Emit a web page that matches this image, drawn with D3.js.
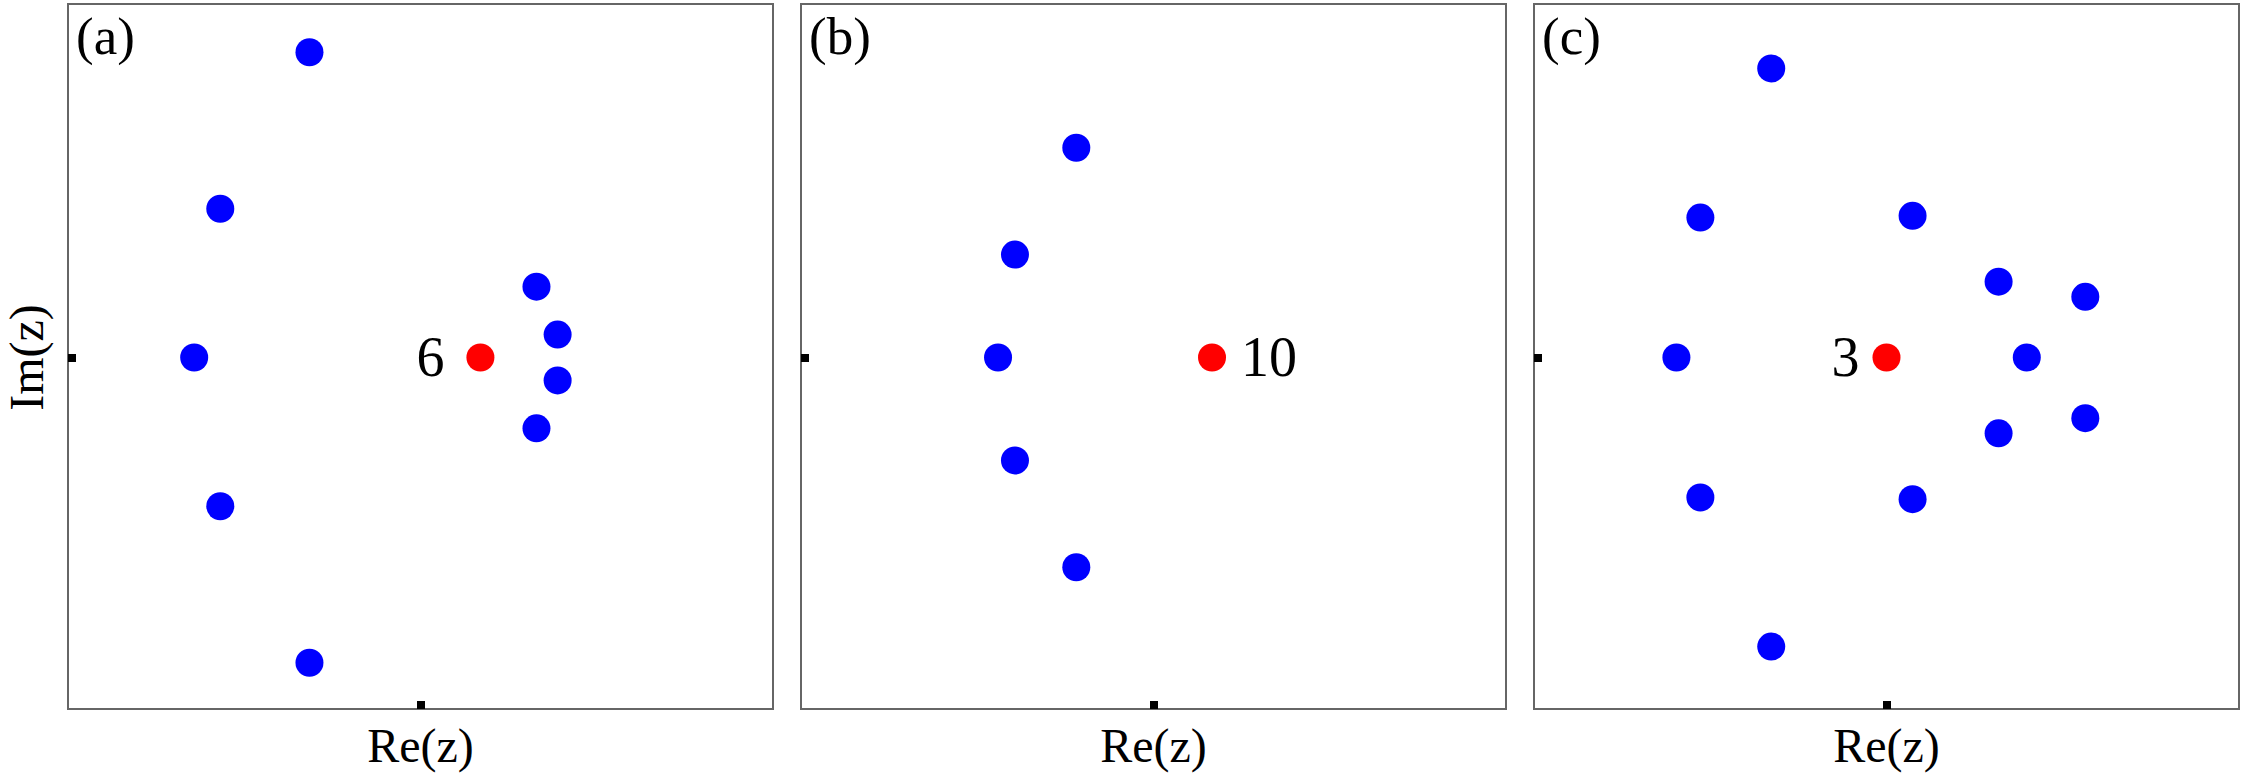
<!DOCTYPE html>
<html>
<head>
<meta charset="utf-8">
<script src="https://cdn.jsdelivr.net/npm/d3@7"></script>
<style>
  html, body { margin: 0; padding: 0; background: #fff; }
  svg { display: block; }
  text { font-family: "Liberation Serif", "Times New Roman", serif; fill: #000; }
</style>
</head>
<body>
<svg id="chart" width="2242" height="779"></svg>
<script>
// ---------------- data ----------------
const panelLabels = ["(a)", "(b)", "(c)"];
const markerLabels = ["6", "10", "3"];
const xAxisTitle = "Re(z)";
const yAxisTitle = "Im(z)";
const xTickValues = [0];
const yTickValues = [0];

// red (special) point per panel
const redRe = [0.170, 0.166, 0.000];
const redIm = [0.000, 0.000, 0.000];

// blue points, panel (a)
const blueReA = [-0.315, -0.568, -0.642, -0.568, -0.315, 0.329, 0.389, 0.389, 0.329];
const blueImA = [0.866, 0.422, 0.000, -0.422, -0.866, 0.201, 0.065, -0.065, -0.201];
// blue points, panel (b)
const blueReB = [-0.219, -0.393, -0.441, -0.393, -0.219];
const blueImB = [0.595, 0.292, 0.000, -0.292, -0.595];
// blue points, panel (c)
const blueReC = [-0.327, -0.528, -0.596, -0.528, -0.327, 0.074, 0.074, 0.318, 0.318, 0.564, 0.564, 0.398];
const blueImC = [0.820, 0.397, 0.000, -0.397, -0.820, 0.402, -0.402, 0.215, -0.215, 0.172, -0.172, 0.000];

const domainRe = [-1, 1];
const domainIm = [-1, 1];

// ---------------- layout ----------------
const panelLeft = [68, 801, 1534];
const panelTop = 4;
const panelW = 705;
const panelH = 705;
const labelDx = [-36, 29, -27];   // marker-label offset from red dot (px)

const svg = d3.select("#chart");

const blueRe = [blueReA, blueReB, blueReC];
const blueIm = [blueImA, blueImB, blueImC];

panelLeft.forEach((left, i) => {
  const g = svg.append("g").attr("transform", `translate(${left},${panelTop})`);
  const x = d3.scaleLinear().domain(domainRe).range([0, panelW]);
  const y = d3.scaleLinear().domain(domainIm).range([panelH + 1, 1]);

  // frame
  g.append("rect")
    .attr("x", 0).attr("y", 0)
    .attr("width", panelW).attr("height", panelH)
    .attr("fill", "none")
    .attr("stroke", "#666")
    .attr("stroke-width", 2);

  // ticks (inward, thick)
  const xAxis = d3.axisBottom(x).tickValues(xTickValues).tickSizeInner(-8).tickSizeOuter(0).tickFormat("");
  const gx = g.append("g").attr("transform", `translate(0,${panelH})`).call(xAxis);
  gx.select(".domain").remove();
  gx.selectAll(".tick line").attr("stroke", "#000").attr("stroke-width", 8);

  const yAxis = d3.axisLeft(y).tickValues(yTickValues).tickSizeInner(-8).tickSizeOuter(0).tickFormat("");
  const gy = g.append("g").call(yAxis);
  gy.select(".domain").remove();
  gy.selectAll(".tick line").attr("stroke", "#000").attr("stroke-width", 8);

  // blue points
  const pts = blueRe[i].map((r, k) => ({ re: r, im: blueIm[i][k] }));
  g.selectAll("circle.blue")
    .data(pts)
    .enter().append("circle")
    .attr("class", "blue")
    .attr("cx", d => x(d.re))
    .attr("cy", d => y(d.im))
    .attr("r", 14)
    .attr("fill", "#0000ff");

  // red point
  g.append("circle")
    .attr("cx", x(redRe[i]))
    .attr("cy", y(redIm[i]))
    .attr("r", 14)
    .attr("fill", "#ff0000");

  // marker label
  g.append("text")
    .attr("x", x(redRe[i]) + labelDx[i])
    .attr("y", y(redIm[i]) + 18)
    .attr("text-anchor", labelDx[i] < 0 ? "end" : "start")
    .attr("font-size", 56)
    .text(markerLabels[i]);

  // panel label
  g.append("text")
    .attr("x", 8)
    .attr("y", 50)
    .attr("font-size", 53)
    .text(panelLabels[i]);

  // x axis title
  g.append("text")
    .attr("x", x(0))
    .attr("y", 758)
    .attr("text-anchor", "middle")
    .attr("font-size", 48)
    .text(xAxisTitle);

  if (i === 0) {
    g.append("text")
      .attr("transform", `translate(${-25},${y(0)}) rotate(-90)`)
      .attr("text-anchor", "middle")
      .attr("font-size", 48)
      .text(yAxisTitle);
  }
});
</script>
</body>
</html>
